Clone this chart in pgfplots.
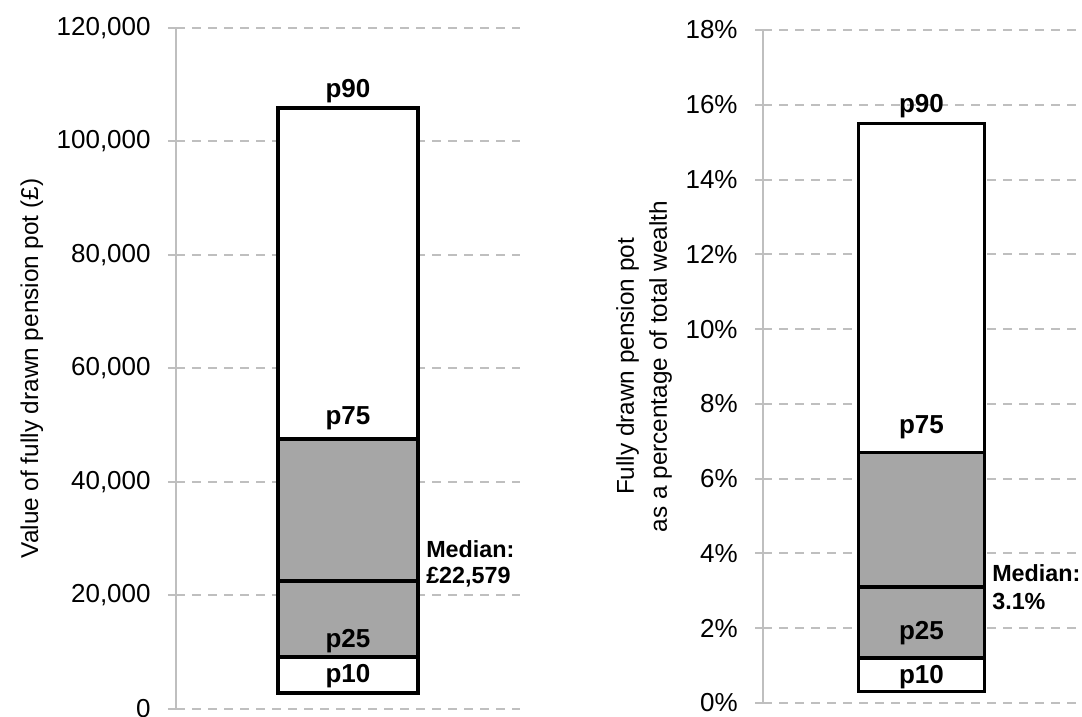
\documentclass[border=0pt]{standalone}
\usepackage{fontspec}
\setmainfont{Liberation Sans}
\usepackage{pgfplots}
\pgfplotsset{compat=1.18}

\definecolor{gridgray}{HTML}{BFBFBF}
\definecolor{bargray}{HTML}{A6A6A6}

\newcommand{\lbl}{\fontsize{19.5}{22}\selectfont}
\newcommand{\blbl}{\fontsize{19.5}{22}\selectfont\bfseries}
\newcommand{\mlbl}{\fontsize{17.5}{20}\selectfont\bfseries}

\tikzset{
  pl/.style={anchor=base, inner sep=0pt, font=\blbl},
  ml/.style={anchor=base west, inner sep=0pt, font=\mlbl},
}

\pgfplotsset{
  pctbox/.style={
    scale only axis,
    anchor=south west,
    xmin=-1, xmax=1,
    xtick=\empty,
    axis x line=none,
    axis y line=left,
    axis line style={-, draw=gridgray, line width=1.5pt},
    ytick style={draw=gridgray, line width=1.5pt},
    tick align=outside,
    major tick length=6pt,
    ymajorgrids,
    grid style={draw=gridgray, line width=1.5pt, dash pattern=on 6.75pt off 5.25pt},
    ybar stacked,
    /pgf/number format/fixed,
    /pgf/number format/assume math mode=true,
    tick label style={font=\lbl},
    yticklabel style={xshift=-9.5pt},
    ylabel style={font=\fontsize{18.25}{22}\selectfont},
    clip=false,
  },
  seg/.style={draw=black, line width=2.5pt, fill=#1},
}

\begin{document}
\begin{tikzpicture}
\useasboundingbox (0,0) rectangle (811.5pt,537.75pt);

% left panel: value in pounds
\begin{axis}[pctbox,
  at={(132pt,6pt)},
  width=258pt, height=510.75pt,
  ymin=0, ymax=120000,
  ytick={0,20000,40000,60000,80000,100000,120000},
  scaled y ticks=false,
  /pgf/number format/1000 sep={,},
  bar width=105pt,
  ylabel={Value of fully drawn pension pot (£)},
  ylabel style={at={(axis description cs:-0.401,0.5)}, anchor=base},
  after end axis/.code={
    \node[pl] at (axis cs:0,107800) {p90};
    \node[pl] at (axis cs:0,50200) {p75};
    \node[pl] at (axis cs:0,10900) {p25};
    \node[pl] at (axis cs:0,4600) {p10};
    \node[ml] at (axis cs:0.4535,26780) {Median:};
    \node[ml] at (axis cs:0.4535,22200) {£22,579};
  },
]
\addplot[draw=none, fill=none] coordinates {(0,2800)};
\addplot[seg=white]   coordinates {(0,6350)};
\addplot[seg=bargray] coordinates {(0,13429)};
\addplot[seg=bargray] coordinates {(0,24971)};
\addplot[seg=white]   coordinates {(0,58350)};
\end{axis}

% right panel: share of total wealth
\begin{axis}[pctbox,
  at={(572.25pt,10.5pt)},
  width=237.75pt, height=504.75pt,
  ymin=0, ymax=18,
  ytick={0,2,4,6,8,10,12,14,16,18},
  yticklabel={\pgfmathprintnumber{\tick}\%},
  bar width=94.5pt,
  ylabel={Fully drawn pension pot\\as a percentage of total wealth},
  ylabel style={at={(axis description cs:-0.375,0.5)}, anchor=center,
    align=center, font=\fontsize{18.25}{24.75}\selectfont},
  after end axis/.code={
    \node[pl] at (axis cs:0,15.78) {p90};
    \node[pl] at (axis cs:0,7.22) {p75};
    \node[pl] at (axis cs:0,1.71) {p25};
    \node[pl] at (axis cs:0,0.51) {p10};
    \node[ml] at (axis cs:0.445,3.24) {Median:};
    \node[ml] at (axis cs:0.445,2.51) {3.1\%};
  },
]
\addplot[draw=none, fill=none] coordinates {(0,0.3)};
\addplot[seg=white]   coordinates {(0,0.9)};
\addplot[seg=bargray] coordinates {(0,1.9)};
\addplot[seg=bargray] coordinates {(0,3.6)};
\addplot[seg=white]   coordinates {(0,8.8)};
\end{axis}
\end{tikzpicture}
\end{document}
